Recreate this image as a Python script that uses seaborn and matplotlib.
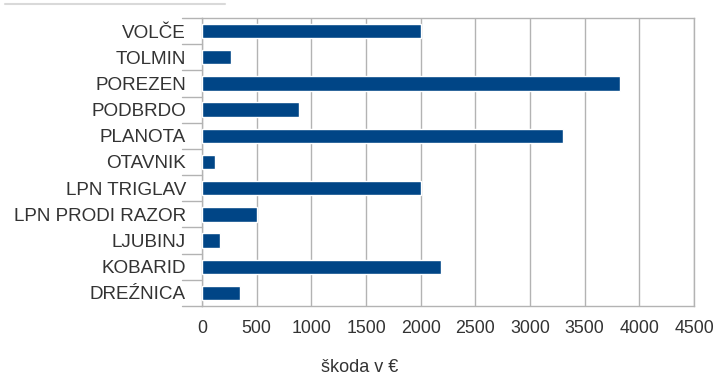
import matplotlib
matplotlib.use("Agg")
import matplotlib.pyplot as plt
from matplotlib.lines import Line2D
import seaborn as sns
import pandas as pd

# Škoda po lokacijah (EUR)
lokacije = ["VOLČE", "TOLMIN", "POREZEN", "PODBRDO", "PLANOTA", "OTAVNIK",
            "LPN TRIGLAV", "LPN PRODI RAZOR", "LJUBINJ", "KOBARID", "DREŹNICA"]
skoda = [2000, 265, 3820, 890, 3300, 120, 2000, 500, 165, 2190, 350]
x_ticks = [0, 500, 1000, 1500, 2000, 2500, 3000, 3500, 4000, 4500]

df = pd.DataFrame({"lokacija": lokacije, "skoda": skoda})

sns.set_style("white")
plt.rcParams["font.family"] = ["Liberation Sans", "DejaVu Sans"]

text_col = "#333333"
grid_col = "#b3b3b3"

fig = plt.figure(figsize=(7.17, 3.78), dpi=100)
ax = fig.add_axes([0.2817, 0.1905, 0.6863, 0.7619])

sns.barplot(data=df, y="lokacija", x="skoda", orient="h", color="#004586",
            saturation=1, width=0.55, ax=ax, zorder=3)

ax.set_xlim(0, 4500)
ax.set_ylim(len(lokacije) - 0.5, -0.5)
ax.set_xticks(x_ticks)
ax.set_xticklabels([str(t) for t in x_ticks], fontsize=12.8, color=text_col)
ax.tick_params(axis="y", labelsize=13.6, labelcolor=text_col, length=0, pad=11.5)
ax.tick_params(axis="x", length=6, color=grid_col, width=1, pad=4)

# vertical gridlines
ax.xaxis.grid(True, color=grid_col, linewidth=1)
ax.set_axisbelow(True)

# small category separators on the left of the axis
for b in [i - 0.5 for i in range(len(lokacije) + 1)]:
    ax.add_line(Line2D([-0.04, 0], [b, b], transform=ax.get_yaxis_transform(),
                       color=grid_col, linewidth=1, clip_on=False))

for s in ax.spines.values():
    s.set_visible(True)
    s.set_color(grid_col)
    s.set_linewidth(1)

ax.set_ylabel("")
ax.set_xlabel("")
fig.text(360 / 717, 1 - 368 / 378, "škoda v €", ha="center", va="center",
         fontsize=13, color=text_col)

# thin rule at the top
fig.add_artist(Line2D([5 / 717, 225 / 717], [1 - 4 / 378, 1 - 4 / 378],
                      color="#d9d9d9", linewidth=1.5))

fig.savefig("out.png", dpi=100)
